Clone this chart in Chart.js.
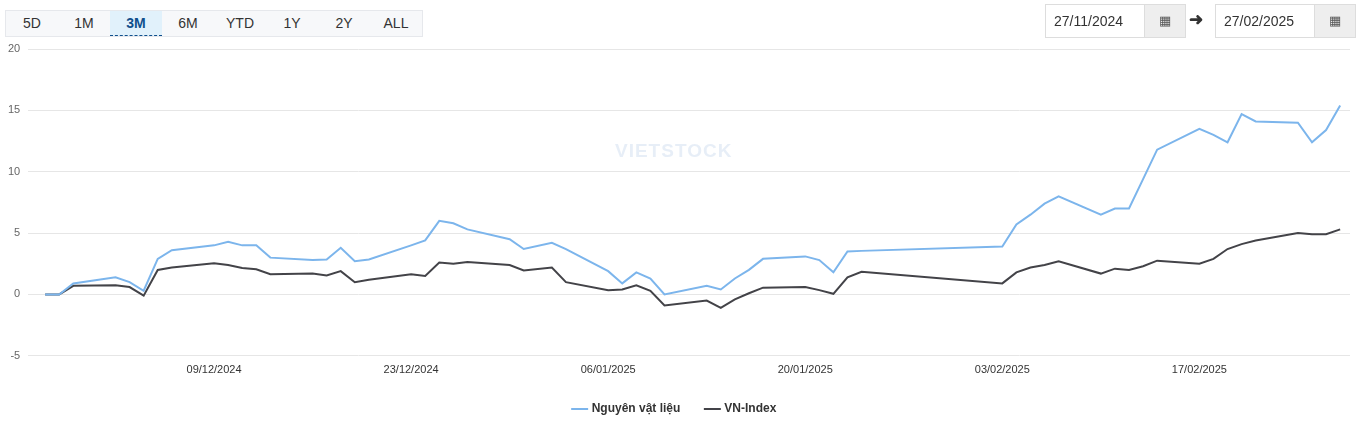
<!DOCTYPE html>
<html>
<head>
<meta charset="utf-8">
<script src="https://cdn.jsdelivr.net/npm/chart.js@4.4.1/dist/chart.umd.min.js"></script>
<style>
  body { margin: 0; background: #fff; font-family: 'Liberation Sans', Arial, sans-serif; }
  #wrap { position: relative; width: 1356px; height: 435px; }
  #chart { position: absolute; left: 0; top: 0; }
  .ranges { position: absolute; left: 5px; top: 10px; height: 25px; display: flex;
    background: #f7f8fa; border: 1px solid #e6e8ec; }
  .ranges span { width: 52px; text-align: center; line-height: 25px; font-size: 14px; color: #333; }
  .ranges span.on { background: #e1f1fb; color: #104f8c; font-weight: bold; border-bottom: 1px dashed #104f8c; }
  .date { position: absolute; top: 4px; height: 32px; border: 1px solid #ddd; display: flex; font-size: 14px; color: #333; }
  .date .v { width: 90px; padding-left: 8px; line-height: 32px; }
  .date .c { width: 40px; background: #eee; border-left: 1px solid #ddd; text-align: center; line-height: 32px; font-size: 13px; color: #555; }
  .arrow { position: absolute; left: 1189px; top: 9px; font-size: 17px; color: #333; font-weight: bold; }
  .wm { position: absolute; left: 615px; top: 140px; font-size: 19px; font-weight: bold; color: rgba(120,160,210,0.18); letter-spacing: 1px; }
</style>
</head>
<body>
<div id="wrap">
  <canvas id="chart" width="1356" height="435"></canvas>
  <div class="wm">VIETSTOCK</div>
  <div class="ranges"><span>5D</span><span>1M</span><span class="on">3M</span><span>6M</span><span>YTD</span><span>1Y</span><span>2Y</span><span>ALL</span></div>
  <div class="date" style="left:1045px"><div class="v">27/11/2024</div><div class="c">&#9638;</div></div>
  <div class="arrow">&#10140;</div>
  <div class="date" style="left:1215px"><div class="v">27/02/2025</div><div class="c">&#9638;</div></div>
</div>
<script>
// trading dates (dd/mm/yyyy)
const dates = [
  '27/11/2024','28/11/2024','29/11/2024',
  '02/12/2024','03/12/2024','04/12/2024','05/12/2024','06/12/2024',
  '09/12/2024','10/12/2024','11/12/2024','12/12/2024','13/12/2024',
  '16/12/2024','17/12/2024','18/12/2024','19/12/2024','20/12/2024',
  '23/12/2024','24/12/2024','25/12/2024','26/12/2024','27/12/2024',
  '30/12/2024','31/12/2024','02/01/2025','03/01/2025',
  '06/01/2025','07/01/2025','08/01/2025','09/01/2025','10/01/2025',
  '13/01/2025','14/01/2025','15/01/2025','16/01/2025','17/01/2025',
  '20/01/2025','21/01/2025','22/01/2025','23/01/2025','24/01/2025',
  '03/02/2025','04/02/2025','05/02/2025','06/02/2025','07/02/2025',
  '10/02/2025','11/02/2025','12/02/2025','13/02/2025','14/02/2025',
  '17/02/2025','18/02/2025','19/02/2025','20/02/2025','21/02/2025',
  '24/02/2025','25/02/2025','26/02/2025','27/02/2025'
];
const materials = [
  0, 0, 0.9,
  1.4, 1.0, 0.3, 2.9, 3.6,
  4.0, 4.3, 4.0, 4.0, 3.0,
  2.8, 2.85, 3.8, 2.7, 2.85,
  4.0, 4.4, 6.0, 5.8, 5.3,
  4.5, 3.7, 4.2, 3.7,
  1.9, 0.9, 1.8, 1.3, 0.0,
  0.7, 0.4, 1.3, 2.0, 2.9,
  3.1, 2.8, 1.8, 3.5, 3.55,
  3.9, 5.7, 6.5, 7.4, 8.0,
  6.5, 7.0, 7.0, 9.4, 11.8,
  13.5, 13.0, 12.4, 14.7, 14.1,
  14.0, 12.4, 13.4, 15.4
];
const vnIndex = [
  0, 0, 0.7,
  0.75, 0.6, -0.1, 2.0, 2.2,
  2.55, 2.4, 2.15, 2.05, 1.65,
  1.7, 1.55, 1.9, 1.0, 1.2,
  1.65, 1.5, 2.6, 2.5, 2.65,
  2.4, 1.95, 2.2, 1.0,
  0.35, 0.4, 0.75, 0.3, -0.9,
  -0.5, -1.1, -0.4, 0.1, 0.55,
  0.6, 0.35, 0.05, 1.4, 1.85,
  0.9, 1.8, 2.2, 2.4, 2.7,
  1.7, 2.1, 2.0, 2.3, 2.75,
  2.5, 2.9, 3.7, 4.1, 4.4,
  5.0, 4.9, 4.9, 5.3
];
const xTickLabels = ['09/12/2024', '23/12/2024', '06/01/2025', '20/01/2025', '03/02/2025', '17/02/2025'];
const yTicks = [-5, 0, 5, 10, 15, 20];

const DAY = 86400000;
const toMs = (s) => { const [d, m, y] = s.split('/').map(Number); return Date.UTC(y, m - 1, d); };
const t0 = toMs(dates[0]);
const dayOf = (s) => (toMs(s) - t0) / DAY;
const fmt = (v) => {
  const d = new Date(t0 + Math.round(v) * DAY);
  const p = (n) => String(n).padStart(2, '0');
  return p(d.getUTCDate()) + '/' + p(d.getUTCMonth() + 1) + '/' + d.getUTCFullYear();
};
const pts = (vals) => dates.map((s, i) => ({ x: dayOf(s), y: vals[i] }));

Chart.defaults.font.family = "'Liberation Sans', Arial, sans-serif";
Chart.defaults.color = '#333';

new Chart(document.getElementById('chart'), {
  type: 'line',
  data: {
    datasets: [
      { label: 'Nguyên vật liệu', data: pts(materials), borderColor: '#7cb5ec', backgroundColor: '#7cb5ec',
        borderWidth: 2, pointRadius: 0, tension: 0 },
      { label: 'VN-Index', data: pts(vnIndex), borderColor: '#434348', backgroundColor: '#434348',
        borderWidth: 2, pointRadius: 0, tension: 0 },
    ],
  },
  options: {
    responsive: false,
    animation: false,
    layout: { padding: { left: 0, right: 6, top: 49, bottom: 10 } },
    plugins: {
      legend: {
        position: 'bottom',
        labels: { usePointStyle: true, pointStyle: 'line', boxWidth: 16, padding: 26,
          font: { size: 12, weight: 'bold' }, color: '#333' },
      },
      tooltip: { enabled: false },
    },
    scales: {
      x: {
        type: 'linear',
        min: -1.2, max: 92.7,
        afterBuildTicks: (ax) => { ax.ticks = xTickLabels.map((s) => ({ value: dayOf(s) })); },
        ticks: { callback: (v) => fmt(v), maxRotation: 0, padding: 0, font: { size: 11 }, color: '#333' },
        grid: { display: false },
        border: { display: false },
      },
      y: {
        min: -5, max: 20,
        afterBuildTicks: (ax) => { ax.ticks = yTicks.map((v) => ({ value: v })); },
        ticks: { font: { size: 11 }, color: '#666', padding: 8 },
        grid: { color: '#e6e6e6', drawTicks: false },
        border: { display: false },
      },
    },
  },
});
</script>
</body>
</html>
